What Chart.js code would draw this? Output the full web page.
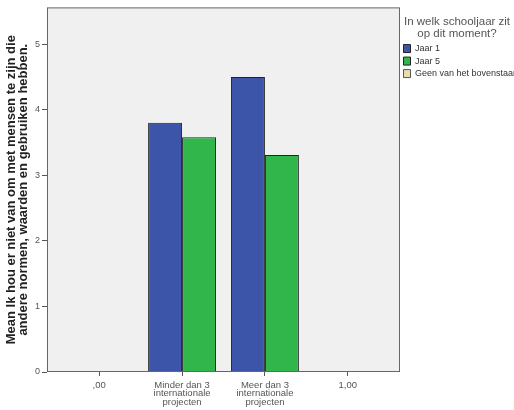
<!DOCTYPE html>
<html>
<head>
<meta charset="utf-8">
<script src="https://cdn.jsdelivr.net/npm/chart.js@4"></script>
<style>
  body { margin: 0; background: #fff; }
  #wrap { width: 514px; height: 410px; }
</style>
</head>
<body>
<div id="wrap"><canvas id="bar-chart"></canvas></div>
<script>
// categorieen op de x-as
var categorieen = [',00', ['Minder dan 3', 'internationale', 'projecten'], ['Meer dan 3', 'internationale', 'projecten'], '1,00']
// gemiddelden per schooljaar
var jaar1 = [null, 3.80, 4.50, null]
var jaar5 = [null, 3.58, 3.31, null]
var geen = [null, null, null, null]
var yTicks = [0, 1, 2, 3, 4, 5]

const punten = arr => arr.map((v, i) => ({ x: i, y: v }))

// grijze achtergrond en kader rond het plotgebied
const kader = {
  id: 'kader',
  beforeDatasetsDraw(chart) {
    const a = chart.chartArea, c = chart.ctx
    c.save()
    c.fillStyle = '#f0f0f0'
    c.fillRect(a.left, a.top, a.right - a.left, a.bottom - a.top)
    c.restore()
  },
  afterDatasetsDraw(chart) {
    const a = chart.chartArea, c = chart.ctx
    c.save()
    c.strokeStyle = '#666'
    c.lineWidth = 1
    c.strokeRect(a.left + 0.5, a.top + 0.5, a.right - a.left - 1, a.bottom - a.top - 1)
    c.restore()
  }
}

var fam = "Arial, 'Liberation Sans', sans-serif"

var ctx = document.getElementById('bar-chart').getContext('2d')
var chart = new Chart(ctx, {
  type: 'bar',
  data: {
    datasets: [
      { label: 'Jaar 1', data: punten(jaar1), backgroundColor: '#3c55a9', borderColor: '#222', borderWidth: 1 },
      { label: 'Jaar 5', data: punten(jaar5), backgroundColor: '#30b64a', borderColor: '#222', borderWidth: 1 },
      { label: 'Geen van het bovenstaande', data: punten(geen), backgroundColor: '#e6ddb0', borderColor: '#555', borderWidth: 1 }
    ]
  },
  plugins: [kader],
  options: {
    responsive: true,
    maintainAspectRatio: false,
    animation: false,
    skipNull: true,
    categoryPercentage: 0.82,
    barPercentage: 1,
    layout: { padding: { top: 7, left: 0, right: 0, bottom: 0 } },
    plugins: {
      tooltip: { enabled: false },
      legend: {
        position: 'right',
        align: 'start',
        maxWidth: 114,
        title: {
          display: true,
          text: ['In welk schooljaar zit', 'op dit moment?'],
          color: '#555',
          font: { family: fam, size: 11.5, lineHeight: 1.05 },
          padding: { top: 9, bottom: 12.5 }
        },
        labels: {
          boxWidth: 7,
          boxHeight: 8,
          padding: 3.5,
          color: '#333',
          font: { family: fam, size: 9 }
        }
      }
    },
    scales: {
      x: {
        type: 'linear',
        min: -0.63,
        max: 3.63,
        offset: false,
        border: { display: false },
        grid: { offset: false, drawOnChartArea: false, drawTicks: true, tickLength: 4, color: '#555' },
        ticks: {
          stepSize: 1,
          includeBounds: false,
          autoSkip: false,
          maxRotation: 0,
          padding: 5,
          color: '#555',
          font: { family: fam, size: 9.5, lineHeight: 0.9 },
          callback: v => categorieen[v]
        },
        afterBuildTicks: s => { s.ticks = categorieen.map((c, i) => ({ value: i })) },
        afterFit: s => { s.height = 38 }
      },
      y: {
        min: 0,
        max: 5.56,
        border: { display: false },
        grid: { drawOnChartArea: false, drawTicks: true, tickLength: 5, color: '#555' },
        ticks: {
          stepSize: 1,
          includeBounds: false,
          padding: 2,
          color: '#555',
          font: { family: fam, size: 9 }
        },
        afterBuildTicks: s => { s.ticks = yTicks.map(v => ({ value: v })) },
        afterFit: s => { s.width = 47 },
        title: {
          display: true,
          text: ['Mean Ik hou er niet van om met mensen te zijn die', 'andere normen, waarden en gebruiken hebben.'],
          color: '#222',
          font: { family: fam, size: 13, weight: 'bold', lineHeight: 0.93 },
          padding: { top: 5, bottom: 0 }
        }
      }
    }
  }
})
</script>
</body>
</html>
